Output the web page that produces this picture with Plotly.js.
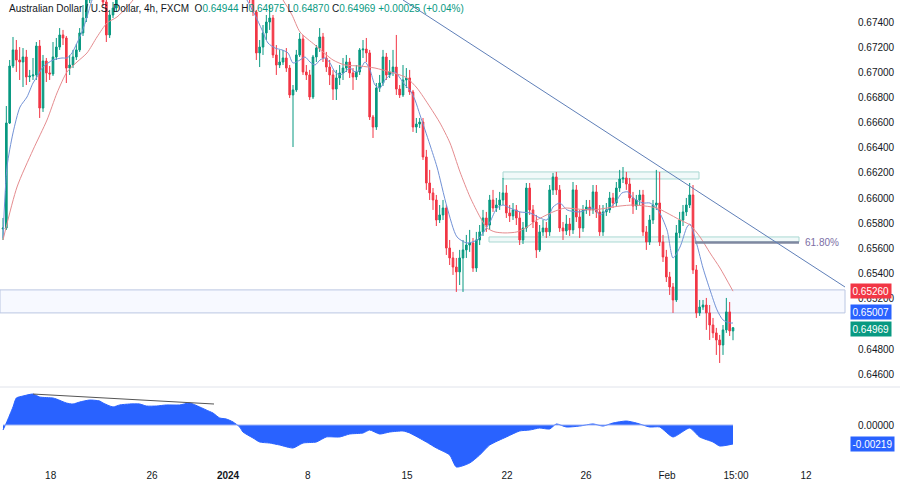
<!DOCTYPE html>
<html>
<head>
<meta charset="utf-8">
<script src="https://cdn.plot.ly/plotly-3.0.1.min.js"></script>
<style>html,body{margin:0;padding:0;background:#fff;}#chart{width:900px;height:483px;}</style>
</head>
<body>
<div id="chart"></div>
<script>
// ---------- DATA (AUD/USD 4h, FXCM) ----------
const firstOpen = 0.65754;
const closes = [
0.65762,0.66597,0.67050,0.67178,0.67098,0.67082,0.67122,0.66963,0.66971,0.66979,
0.67209,0.66716,0.67090,0.66995,0.66987,0.67122,0.67201,0.67297,0.67273,0.67034,
0.67058,0.67122,0.67178,0.67313,0.67432,0.67575,0.67734,0.67814,0.67774,0.67655,
0.67559,0.67297,0.67456,0.67511,0.67639,0.67694,0.67774,0.67853,0.67814,0.67933,
0.68012,0.68052,0.68132,0.68092,0.68211,0.68291,0.68251,0.68330,0.68410,0.68450,
0.68529,0.68489,0.68609,0.68688,0.68648,0.68569,0.68529,0.68450,0.68489,0.68370,
0.68330,0.68251,0.68291,0.68171,0.68132,0.68052,0.67973,0.68012,0.67933,0.67893,
0.67853,0.67814,0.67750,0.67694,0.67591,0.67480,0.67154,0.67201,0.67313,0.67400,
0.67432,0.67138,0.67058,0.67082,0.67114,0.67034,0.66820,0.66860,0.67138,0.67265,
0.67003,0.66979,0.66804,0.67122,0.67193,0.67281,0.67114,0.67042,0.66979,0.66867,
0.66955,0.66995,0.67034,0.67082,0.66995,0.66963,0.67003,0.67178,0.67185,0.67154,
0.66645,0.66565,0.66875,0.66915,0.67122,0.66979,0.67003,0.67042,0.66867,0.66820,
0.66939,0.66955,0.66844,0.66565,0.66589,0.66605,0.66327,0.66120,0.66041,0.65985,
0.65826,0.65866,0.65921,0.65603,0.65524,0.65452,0.65413,0.65524,0.65588,0.65627,
0.65643,0.65444,0.65667,0.65731,0.65842,0.65786,0.65985,0.65921,0.65945,0.65985,
0.66041,0.65882,0.65858,0.65906,0.65842,0.65667,0.65762,0.66080,0.65906,0.65810,
0.65588,0.65731,0.65762,0.65731,0.66065,0.66168,0.66065,0.65762,0.65739,0.65794,
0.65747,0.66065,0.65850,0.65762,0.65906,0.65929,0.65906,0.66049,0.65890,0.65731,
0.65890,0.65906,0.66001,0.65961,0.66080,0.66152,0.66160,0.66112,0.66001,0.65937,
0.65985,0.66025,0.65731,0.65651,0.65826,0.65945,0.65961,0.65651,0.65532,0.65373,
0.65293,0.65190,0.65723,0.65826,0.65890,0.65945,0.66025,0.65429,0.65087,0.65134,
0.65150,0.65087,0.64991,0.64928,0.64872,0.64832,0.64952,0.65095,0.64944,0.64969];
const highs = [
0.65842,0.66732,0.67098,0.67281,0.67257,0.67201,0.67193,0.67178,0.67019,0.67114,
0.67241,0.67257,0.67138,0.67114,0.67050,0.67241,0.67273,0.67352,0.67337,0.67289,
0.67138,0.67178,0.67225,0.67352,0.67535,0.67655,0.67798,0.67893,0.67877,0.67814,
0.67686,0.67575,0.67496,0.67559,0.67694,0.67750,0.67829,0.67909,0.67893,0.67973,
0.68068,0.68132,0.68195,0.68171,0.68251,0.68354,0.68330,0.68386,0.68465,0.68513,
0.68577,0.68569,0.68656,0.68752,0.68728,0.68688,0.68609,0.68569,0.68545,0.68513,
0.68410,0.68370,0.68338,0.68306,0.68211,0.68163,0.68092,0.68068,0.68052,0.67973,
0.67933,0.67893,0.67845,0.67798,0.67718,0.67623,0.67496,0.67257,0.67376,0.67456,
0.67535,0.67456,0.67217,0.67178,0.67178,0.67193,0.67058,0.66899,0.67178,0.67313,
0.67297,0.67058,0.67019,0.67138,0.67217,0.67352,0.67313,0.67162,0.67098,0.67019,
0.67019,0.67058,0.67114,0.67138,0.67114,0.67034,0.67058,0.67193,0.67257,0.67273,
0.67178,0.66661,0.66915,0.66979,0.67178,0.67154,0.67098,0.67178,0.67297,0.66899,
0.67058,0.67034,0.67019,0.66860,0.66637,0.66637,0.66637,0.66383,0.66224,0.66080,
0.66025,0.65945,0.65985,0.65945,0.65667,0.65572,0.65524,0.65588,0.65667,0.65707,
0.65747,0.65683,0.65731,0.65786,0.65906,0.65890,0.66025,0.66065,0.66001,0.66049,
0.66160,0.66104,0.65945,0.65961,0.65945,0.65890,0.65810,0.66120,0.66120,0.65945,
0.65866,0.65786,0.65826,0.65810,0.66104,0.66200,0.66208,0.66104,0.65810,0.65866,
0.65842,0.66128,0.66104,0.65906,0.65945,0.65985,0.65985,0.66104,0.66104,0.65945,
0.65945,0.65961,0.66049,0.66041,0.66128,0.66224,0.66247,0.66208,0.66160,0.66049,
0.66025,0.66065,0.66065,0.65778,0.65866,0.65985,0.66224,0.66208,0.65707,0.65588,
0.65413,0.65325,0.65786,0.65890,0.65945,0.66001,0.66120,0.66104,0.65468,0.65190,
0.65190,0.65206,0.65150,0.65047,0.64968,0.64912,0.64991,0.65206,0.65174,0.64975];
const lows = [
0.65667,0.65747,0.66589,0.67034,0.67003,0.66939,0.66883,0.66899,0.66923,0.66939,
0.66939,0.66637,0.66685,0.66923,0.66939,0.66971,0.67098,0.67178,0.67217,0.66915,
0.66979,0.67034,0.67098,0.67162,0.67289,0.67400,0.67551,0.67694,0.67718,0.67615,
0.67527,0.67241,0.67273,0.67432,0.67480,0.67607,0.67670,0.67750,0.67750,0.67798,
0.67893,0.67973,0.68012,0.68036,0.68068,0.68171,0.68195,0.68211,0.68291,0.68370,
0.68410,0.68434,0.68465,0.68569,0.68569,0.68513,0.68465,0.68410,0.68410,0.68330,
0.68275,0.68211,0.68211,0.68132,0.68068,0.68012,0.67933,0.67933,0.67893,0.67829,
0.67798,0.67750,0.67694,0.67655,0.67551,0.67448,0.67098,0.67042,0.67138,0.67257,
0.67337,0.67114,0.66979,0.67034,0.67058,0.67003,0.66796,0.66406,0.66844,0.67122,
0.66979,0.66939,0.66780,0.66788,0.67082,0.67162,0.67082,0.67003,0.66899,0.66780,
0.66780,0.66899,0.66939,0.67003,0.66955,0.66860,0.66939,0.66979,0.67114,0.67082,
0.66621,0.66478,0.66542,0.66844,0.66891,0.66939,0.66955,0.66971,0.66820,0.66796,
0.66804,0.66875,0.66820,0.66526,0.66518,0.66557,0.66303,0.66065,0.65985,0.65906,
0.65778,0.65802,0.65826,0.65548,0.65468,0.65389,0.65254,0.65309,0.65254,0.65524,
0.65572,0.65413,0.65413,0.65627,0.65699,0.65731,0.65747,0.65890,0.65890,0.65906,
0.65945,0.65842,0.65810,0.65826,0.65786,0.65627,0.65635,0.65731,0.65866,0.65762,
0.65524,0.65572,0.65699,0.65683,0.65699,0.66025,0.66025,0.65731,0.65667,0.65707,
0.65699,0.65715,0.65810,0.65683,0.65731,0.65874,0.65858,0.65874,0.65842,0.65699,
0.65699,0.65858,0.65882,0.65921,0.65937,0.66049,0.66120,0.66065,0.65969,0.65874,
0.65906,0.65945,0.65699,0.65588,0.65627,0.65794,0.65906,0.65619,0.65492,0.65333,
0.65230,0.65087,0.65174,0.65683,0.65778,0.65858,0.65921,0.65397,0.65047,0.65063,
0.65111,0.64952,0.64872,0.64888,0.64753,0.64689,0.64753,0.64928,0.64904,0.64870];

// fast moving average (blue), read at bar indices
const maFastIdx = [0,1.2,3,5.1,7.2,9,10.2,12,15,17.7,19.2,20.7,22.2,23.7,25.2,26.7,28.5,32,
  71,73.2,75.6,77.7,79.5,81.6,83.7,85.5,87,89.1,90.6,92.1,93.6,95.1,96.6,98.1,99.6,101.1,102.6,104.1,105.6,107.1,108.6,110.1,111.6,113.1,114.6,116.1,117.6,119.1,120.6,122.1,123.6,125.1,126.6,128.1,130.2,133.2,136.2,139.2,142.2,144,146.1,148.2,150,152.1,155.1,158.1,161.1,163.2,165,167.1,169.2,173.1,177,179.1,181.2,183.6,185.7,187.5,189,192,194.1,196.5,199.2,201,203.1,205.2,206.1,208.2,210,212.1,214.2,216,218.1,219];
const maFastVal = [0.65683,0.66247,0.66518,0.66724,0.66804,0.66915,0.66963,0.67042,0.67098,0.67114,0.67114,0.67154,0.67233,0.67321,0.67440,0.67575,0.67670,0.67814,
  0.67734,0.67575,0.67456,0.67337,0.67233,0.67193,0.67178,0.67154,0.67074,0.67098,0.67122,0.67082,0.67058,0.67098,0.67114,0.67074,0.67003,0.66979,0.67003,0.67034,0.67003,0.67019,0.67082,0.67019,0.66899,0.66875,0.66939,0.66979,0.67003,0.66955,0.66899,0.66860,0.66780,0.66661,0.66542,0.66422,0.66247,0.65929,0.65691,0.65643,0.65667,0.65723,0.65810,0.65921,0.65945,0.65921,0.65890,0.65882,0.65842,0.65826,0.65929,0.65961,0.65906,0.65890,0.65921,0.65866,0.65906,0.65961,0.66041,0.66049,0.66001,0.65961,0.65961,0.65906,0.65747,0.65524,0.65611,0.65770,0.65794,0.65627,0.65444,0.65270,0.65111,0.65031,0.65007,0.65007];

// slow moving average (red), read at bar indices
const maSlowIdx = [0,4.2,9,13.2,16.2,19.2,22.2,25.2,28.2,31.2,34.2,37.2,39,42.6,
  80.1,84,86.7,89.1,93.6,99,102.6,107.1,111.6,116.1,119.1,121.2,124.2,128.1,131.1,134.1,137.1,140.1,143.1,145.2,147.6,150.6,154.2,157.2,160.2,165,168.6,172.2,177,181.2,185.1,189,192.6,196.2,199.2,203.1,206.1,209.1,212.1,215.1,219];
const maSlowVal = [0.65667,0.66088,0.66383,0.66621,0.66836,0.67003,0.67082,0.67154,0.67281,0.67392,0.67440,0.67520,0.67575,0.67734,
  0.67734,0.67575,0.67456,0.67321,0.67217,0.67098,0.67058,0.67050,0.67034,0.67003,0.66979,0.66955,0.66875,0.66724,0.66597,0.66438,0.66208,0.66009,0.65850,0.65762,0.65731,0.65723,0.65731,0.65770,0.65826,0.65890,0.65921,0.65913,0.65906,0.65921,0.65937,0.65945,0.65937,0.65921,0.65882,0.65826,0.65786,0.65691,0.65564,0.65444,0.65260];

// oscillator (lower pane)
const oscIdx = [0,1,3,4,6,9,11,15,16,19,21,23,26,29,30,33,35,38,41,43,46,49,53,56,59,61,63,65,67,69,71,72,75,77,80,83,87,90,94,97,101,104,108,110,113,116,120,122,127,130,134,136,140,143,146,151,155,158,161,164,166,169,173,177,180,183,187,190,194,197,201,206,209,213,215,219];
const oscVal = [-0.00058,0.00023,0.00208,0.00311,0.00334,0.00357,0.00323,0.00311,0.00300,0.00254,0.00242,0.00265,0.00288,0.00277,0.00254,0.00208,0.00231,0.00242,0.00242,0.00219,0.00219,0.00231,0.00231,0.00254,0.00208,0.00173,0.00138,0.00081,0.00069,0.00035,-0.00023,-0.00081,-0.00150,-0.00196,-0.00208,-0.00231,-0.00265,-0.00208,-0.00196,-0.00138,-0.00138,-0.00104,-0.00092,-0.00058,-0.00104,-0.00081,-0.00069,-0.00092,-0.00196,-0.00265,-0.00346,-0.00484,-0.00438,-0.00346,-0.00231,-0.00138,-0.00069,-0.00058,-0.00035,-0.00046,0.00012,-0.00023,-0.00012,0.00012,-0.00012,0.00023,0.00046,0.00023,-0.00023,-0.00023,-0.00138,-0.00035,-0.00138,-0.00196,-0.00242,-0.00219];

// x-axis labels
const tickIdx = [14.3,44.7,67.5,91.4,121.2,151.2,174.9,199.2,219.9,240.9];
const tickLabels = ['18','26','<b>2024</b>','8','15','22','26','Feb','15:00','12'];

// price-axis labels visible in the picture (0.65000 is hidden behind the value tags)
const priceTicks = [0.646,0.648,0.652,0.654,0.656,0.658,0.660,0.662,0.664,0.666,0.668,0.670,0.672,0.674];

// drawings
const trendX = [120, 252.6], trendY = [0.67575, 0.65293];
const topBoxX = [150, 208.8], topBoxY = [0.66152, 0.66208];
const lowBoxX = [145.8, 238.8], lowBoxY = [0.65651, 0.65691];
const fibX = [207.6, 238.8], fibPrice = 0.65647, fibLabel = '61.80%';
const bandY = [0.65087, 0.65270];
const oscTrendX = [9, 63.3], oscTrendY = [0.00357, 0.00242];

// last values
const lastClose = 0.64969, lastFast = 0.65007, lastSlow = 0.65260, lastOsc = -0.00219;
const ohlcText = {o:'0.64944', h:'0.64975', l:'0.64870', c:'0.64969', chg:'+0.00025 (+0.04%)'};

// ---------- BUILD ----------
const opens = [firstOpen].concat(closes.slice(0, -1));
const idx = closes.map((_, i) => i);

const FONT = 'Liberation Sans, Arial, sans-serif';
const TXT = '#131722';

const traces = [
  {type:'candlestick', x:idx, open:opens, high:highs, low:lows, close:closes,
   xaxis:'x', yaxis:'y', whiskerwidth:0, hoverinfo:'skip', showlegend:false,
   increasing:{line:{color:'#089981', width:1}, fillcolor:'#089981'},
   decreasing:{line:{color:'#f23645', width:1}, fillcolor:'#f23645'}},
  {type:'scatter', mode:'lines', x:maFastIdx, y:maFastVal, xaxis:'x', yaxis:'y',
   line:{color:'#7191d6', width:1, shape:'spline', smoothing:0.7}, hoverinfo:'skip', showlegend:false},
  {type:'scatter', mode:'lines', x:maSlowIdx, y:maSlowVal, xaxis:'x', yaxis:'y',
   line:{color:'#e58c8f', width:1, shape:'spline', smoothing:0.7}, hoverinfo:'skip', showlegend:false},
  {type:'scatter', mode:'lines', x:oscIdx, y:oscVal, xaxis:'x', yaxis:'y2', fill:'tozeroy',
   fillcolor:'#2962ff', line:{color:'#2962ff', width:1, shape:'spline', smoothing:0.6}, hoverinfo:'skip', showlegend:false}
];

const H = 468; // plot height (483 - bottom margin)
const mainBottom = 1 - 387/H;

const shapes = [
  {type:'rect', xref:'paper', x0:0, x1:1, yref:'y', y0:bandY[0], y1:bandY[1],
   fillcolor:'rgba(41,98,255,0.035)', line:{color:'#bac6e2', width:1}, layer:'below'},
  {type:'rect', xref:'x', yref:'y', x0:topBoxX[0], x1:topBoxX[1], y0:topBoxY[0], y1:topBoxY[1],
   fillcolor:'rgba(178,223,219,0.18)', line:{color:'#a9d8d2', width:1}, layer:'below'},
  {type:'rect', xref:'x', yref:'y', x0:lowBoxX[0], x1:lowBoxX[1], y0:lowBoxY[0], y1:lowBoxY[1],
   fillcolor:'rgba(178,223,219,0.18)', line:{color:'#a9d8d2', width:1}, layer:'below'},
  {type:'line', xref:'x', yref:'y', x0:fibX[0], x1:fibX[1], y0:fibPrice, y1:fibPrice,
   line:{color:'#7f88a0', width:2.5}},
  {type:'line', xref:'x', yref:'y', x0:trendX[0], x1:trendX[1], y0:trendY[0], y1:trendY[1],
   line:{color:'#5f7fb8', width:1}},
  {type:'line', xref:'paper', yref:'paper', x0:0, x1:1.07, y0:mainBottom, y1:mainBottom,
   line:{color:'#e0e3eb', width:1}},
  {type:'line', xref:'x', yref:'y2', x0:0, x1:closes.length-1, y0:0, y1:0,
   line:{color:'#9fb4f5', width:1}},
  {type:'line', xref:'x', yref:'y2', x0:oscTrendX[0], x1:oscTrendX[1], y0:oscTrendY[0], y1:oscTrendY[1],
   line:{color:'#555555', width:1}}
];

const g = '#089981';
const titleText = 'Australian Dollar / U.S. Dollar, 4h, FXCM&nbsp;&nbsp;' +
  'O<span style="color:'+g+'">'+ohlcText.o+'</span> ' +
  'H<span style="color:'+g+'">'+ohlcText.h+'</span> ' +
  'L<span style="color:'+g+'">'+ohlcText.l+'</span> ' +
  'C<span style="color:'+g+'">'+ohlcText.c+'</span> ' +
  '<span style="color:'+g+'">'+ohlcText.chg+'</span>';

function tag(y, yref, text, bg) {
  return {xref:'paper', x:1, xanchor:'left', xshift:5, yref:yref, y:y, yanchor:'middle',
    text:text, showarrow:false, bgcolor:bg, borderpad:1.5,
    font:{family:FONT, size:10, color:'#ffffff'}};
}

const annotations = [
  {xref:'paper', yref:'paper', x:0.008, y:1, xanchor:'left', yanchor:'top', yshift:-1,
   text:titleText, showarrow:false, font:{family:FONT, size:10, color:TXT}},
  {xref:'x', yref:'y', x:fibX[1]+1.2, y:fibPrice, xanchor:'left', yanchor:'middle',
   text:fibLabel, showarrow:false, font:{family:FONT, size:10, color:'#7c6fa5'}},
  tag(lastSlow, 'y', lastSlow.toFixed(5), '#f23645'),
  Object.assign(tag(lastFast, 'y', lastFast.toFixed(5), '#2962ff'), {yshift:11}),
  Object.assign(tag(lastClose, 'y', lastClose.toFixed(5), '#089981'), {yshift:-1}),
  tag(lastOsc, 'y2', lastOsc.toFixed(5), '#2962ff')
];

const layout = {
  width:900, height:483,
  margin:{l:0, r:55, t:0, b:15, pad:0},
  paper_bgcolor:'#ffffff', plot_bgcolor:'#ffffff',
  font:{family:FONT, size:10, color:TXT},
  showlegend:false, hovermode:false, dragmode:false,
  xaxis:{range:[-0.9, 252.6], anchor:'y2', rangeslider:{visible:false},
    tickmode:'array', tickvals:tickIdx, ticktext:tickLabels,
    showgrid:false, zeroline:false, showline:false, ticks:'',
    tickfont:{family:FONT, size:10, color:TXT}},
  yaxis:{domain:[mainBottom, 1], range:[0.64498, 0.67575], side:'right', anchor:'x',
    tickmode:'array', tickvals:priceTicks, ticktext:priceTicks.map(v => v.toFixed(5)),
    showgrid:false, zeroline:false, showline:false, ticks:'', ticklabelstandoff:12,
    tickfont:{family:FONT, size:10, color:TXT}},
  yaxis2:{domain:[0, 80/H], range:[-0.004958, 0.004266], side:'right', anchor:'x',
    tickmode:'array', tickvals:[0], ticktext:['0.00000'],
    showgrid:false, zeroline:false, showline:false, ticks:'', ticklabelstandoff:12,
    tickfont:{family:FONT, size:10, color:TXT}},
  shapes:shapes,
  annotations:annotations
};

Plotly.newPlot('chart', traces, layout, {staticPlot:true, displayModeBar:false});
</script>
</body>
</html>
